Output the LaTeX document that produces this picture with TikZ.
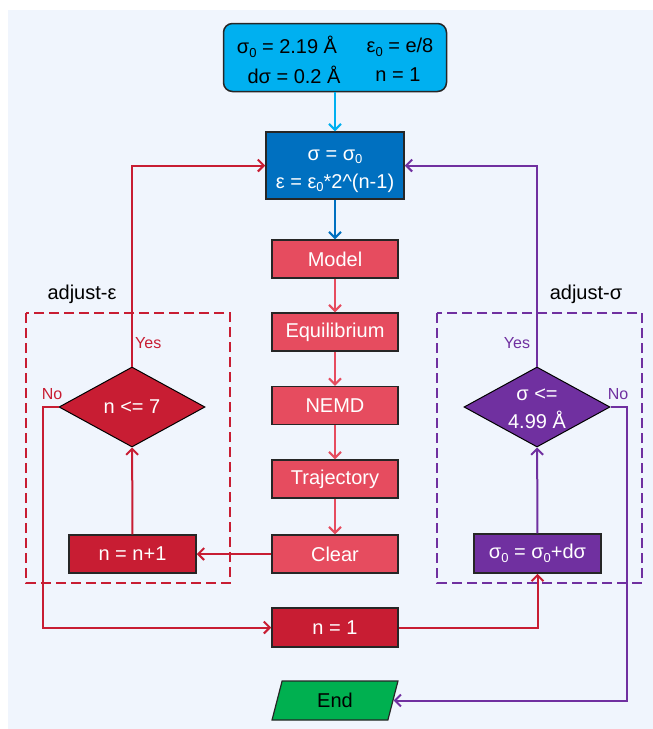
\documentclass[tikz,border=0pt]{standalone}
\usepackage{fontspec}
\setmainfont{Liberation Sans}
\usetikzlibrary{shapes.geometric,arrows.meta}
\definecolor{bgc}{HTML}{F0F5FD}
\definecolor{cyanc}{HTML}{00B0F0}
\definecolor{bluec}{HTML}{0070C0}
\definecolor{rosec}{HTML}{E64C5F}
\definecolor{redc}{HTML}{C81D33}
\definecolor{purc}{HTML}{7030A0}
\definecolor{grnc}{HTML}{00B050}
\newcommand{\lowidx}[1]{\raisebox{-0.35ex}{\fontsize{13}{13}\selectfont #1}}
\begin{document}
\begin{tikzpicture}[x=1pt,y=-1pt,
  font=\fontsize{20}{28}\selectfont,
  box/.style={draw=black!85, line width=1.5pt, minimum width=126pt, minimum height=38pt, inner sep=0pt, text=white},
  rosebox/.style={box, fill=rosec},
  redbox/.style={box, fill=redc},
  dia/.style={diamond, draw=black, line width=1pt, minimum width=146pt, minimum height=80pt, inner sep=0pt},
  txt/.style={inner sep=0pt, align=center},
  small/.style={inner sep=0pt, font=\fontsize{16}{16}\selectfont},
  arr/.style={line width=2pt, -{Straight Barb[length=6pt,width=12pt]}},
  dbox/.style={line width=2.2pt, dash pattern=on 10pt off 5pt}
]
\useasboundingbox (0,0) rectangle (653,729);
\fill[bgc] (8,10) rectangle (653,729);

% dashed groups
\draw[dbox, redc] (26,313) rectangle (230,583);
\draw[dbox, purc] (437,313) rectangle (642,583);
\node[txt] (adjE) at (82,294) {adjust-ε};
\node[txt] (adjS) at (586,294) {adjust-σ};

% top box
\node[draw=black!85, line width=1.5pt, fill=cyanc, rounded corners=9pt, minimum width=223pt, minimum height=68pt, inner sep=0pt] (top) at (335,57.5) {};
\node[txt] (t1) at (287,47) {σ\lowidx{0} = 2.19 Å};
\node[txt] (t2) at (400,47) {ε\lowidx{0} = e/8};
\node[txt] (t3) at (294,75) {dσ = 0.2 Å};
\node[txt] (t4) at (398,75) {n = 1};

% second box
\node[box, fill=bluec, minimum width=138pt, minimum height=67pt] (b2) at (335,165.5) {};
\node[txt, text=white] (b2t) at (335,171) {σ = σ\lowidx{0}\\ε = ε\lowidx{0}*2\^{}(n-1)};

% chain
\node[rosebox] (model) at (335,259) {Model};
\node[rosebox] (equi) at (335,332) {Equilibrium};
\node[rosebox] (nemd) at (335,405.5) {NEMD};
\node[rosebox] (traj) at (335,479) {Trajectory};
\node[rosebox] (clear) at (335,554) {Clear};

\node[redbox, minimum width=127pt] (nn1) at (132.5,554) {n = n+1};
\node[redbox, minimum height=39pt] (n1) at (335,627.5) {n = 1};
\node[box, fill=purc, minimum width=127pt, minimum height=39pt] (s0) at (537.5,553.5) {σ\lowidx{0} = σ\lowidx{0}+dσ};

% diamonds
\node[dia, fill=redc] (d1) at (132,407) {};
\node[txt, text=white] (d1t) at (132,407) {n <= 7};
\node[dia, fill=purc] (d2) at (537,407) {};
\node[txt, text=white] (d2t) at (537,409) {σ <=\\4.99 Å};

% end
\node[trapezium, trapezium left angle=77, trapezium right angle=103, trapezium stretches, draw=black!85, line width=1.2pt, fill=grnc, minimum width=126pt, minimum height=39pt, inner sep=0pt] (end) at (335,700.5) {End};

% connectors
\draw[arr, cyanc] (top) -- (b2);
\draw[arr, bluec] (b2) -- (model);
\draw[arr, rosec] (model) -- (equi);
\draw[arr, rosec] (equi) -- (nemd);
\draw[arr, rosec] (nemd) -- (traj);
\draw[arr, rosec] (traj) -- (clear);
\draw[arr, redc] (clear) -- (nn1);
\draw[arr, redc] (nn1) -- (d1);
\draw[arr, redc] (d1.north) |- (b2.west);
\coordinate (lno) at (43,407);
\draw[arr, redc] (d1.west) -- (lno) |- (n1.west);
\draw[arr, redc] (n1.east) -| (s0.south);
\draw[arr, purc] (s0) -- (d2);
\draw[arr, purc] (d2.north) |- (b2.east);
\coordinate (rno) at (627,407);
\draw[arr, purc] (d2.east) -- (rno) |- (end.east);

% labels
\node[small, text=redc, anchor=west] (y1) at (135,343) {Yes};
\node[small, text=redc] (no1) at (52,394) {No};
\node[small, text=purc] (y2) at (517,343) {Yes};
\node[small, text=purc] (no2) at (618,394) {No};
\end{tikzpicture}
\end{document}
